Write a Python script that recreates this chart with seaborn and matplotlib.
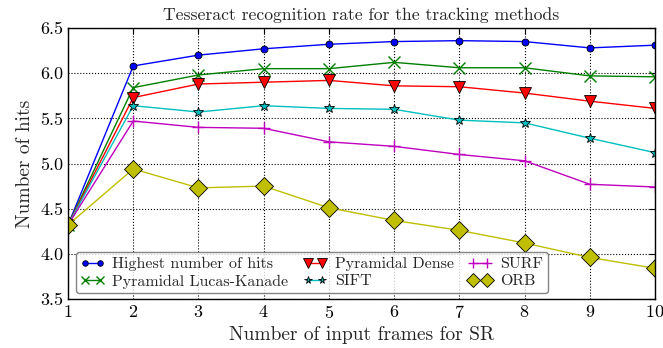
import numpy as np
import pandas as pd
import matplotlib
matplotlib.use("Agg")
import matplotlib.pyplot as plt
import seaborn as sns

frames = [1, 2, 3, 4, 5, 6, 7, 8, 9, 10]
highest = [4.32, 6.08, 6.20, 6.27, 6.32, 6.35, 6.36, 6.35, 6.28, 6.31]
lucas_kanade = [4.32, 5.84, 5.98, 6.05, 6.05, 6.12, 6.06, 6.06, 5.97, 5.96]
pyr_dense = [4.32, 5.73, 5.88, 5.90, 5.92, 5.86, 5.85, 5.78, 5.69, 5.61]
sift = [4.32, 5.64, 5.57, 5.64, 5.61, 5.60, 5.48, 5.45, 5.28, 5.12]
surf = [4.32, 5.47, 5.40, 5.39, 5.24, 5.19, 5.10, 5.03, 4.77, 4.74]
orb = [4.32, 4.94, 4.73, 4.75, 4.51, 4.37, 4.26, 4.12, 3.96, 3.84]

series = [
    ("Highest number of hits", highest, "b", "o", 5),
    ("Pyramidal Lucas-Kanade", lucas_kanade, "g", "x", 8),
    ("Pyramidal Dense", pyr_dense, "r", "v", 9),
    ("SIFT", sift, "c", "*", 7),
    ("SURF", surf, "m", "+", 9),
    ("ORB", orb, "y", "D", 9),
]

sns.set_style("white")
plt.rcParams["font.family"] = ["cmr10", "DejaVu Serif"]
plt.rcParams["mathtext.fontset"] = "cm"
plt.rcParams["axes.formatter.use_mathtext"] = True

fig = plt.figure(figsize=(6.63, 3.48), dpi=100)
ax = fig.add_axes([0.1026, 0.1408, 0.8854, 0.7787])

for name, vals, col, mk, ms in series:
    df = pd.DataFrame({"frames": frames, "hits": vals})
    sns.lineplot(data=df, x="frames", y="hits", ax=ax, color=col, marker=mk,
                 markersize=ms, markeredgecolor="k" if mk not in ("x", "+") else col,
                 markeredgewidth=0.6 if mk not in ("x", "+") else 1.0,
                 linewidth=1.0, label=name)

ax.set_xlim(1, 10)
ax.set_ylim(3.5, 6.5)
ax.set_xticks(frames)
ax.set_yticks(np.arange(3.5, 6.51, 0.5))
ax.set_yticklabels([f"{v:.1f}" for v in np.arange(3.5, 6.51, 0.5)])
ax.grid(True, color="k", linestyle=":", linewidth=0.8)
for s in ax.spines.values():
    s.set_color("k")
    s.set_linewidth(1.0)
ax.tick_params(direction="in", top=True, right=True, length=4, labelsize=13, colors="k")

ax.set_title("Tesseract recognition rate for the tracking methods", fontsize=12.7)
ax.set_xlabel("Number of input frames for SR", fontsize=14)
ax.set_ylabel("Number of hits", fontsize=14)

leg = ax.legend(loc="lower left", ncol=3, numpoints=2, fontsize=11.5,
                frameon=True, fancybox=True, handlelength=1.5, handletextpad=0.5,
                columnspacing=0.9, labelspacing=0.2, borderpad=0.3,
                bbox_to_anchor=(0.013, 0.021), borderaxespad=0.0)
leg.get_frame().set_edgecolor("0.4")
leg.get_frame().set_linewidth(1.0)
for h in leg.legend_handles:
    h.set_markersize(h.get_markersize() * 0.8)

fig.savefig("out.png", dpi=100)
